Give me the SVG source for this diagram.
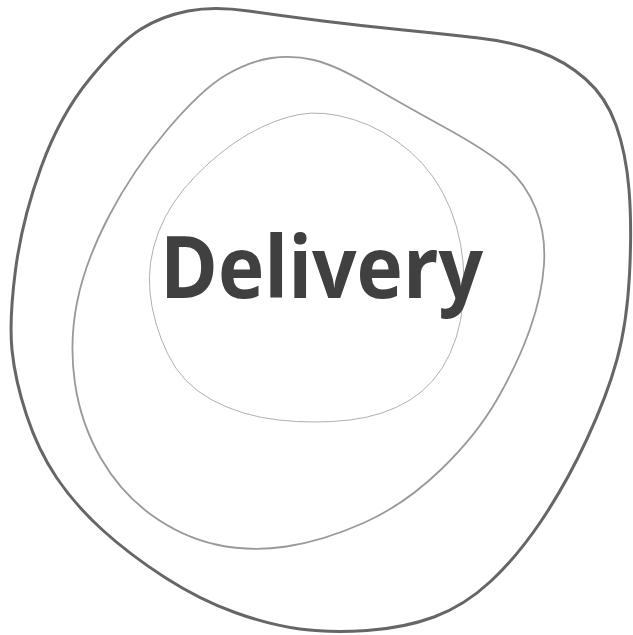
<svg xmlns="http://www.w3.org/2000/svg" width="633" height="635" viewBox="0 0 633 635">
<style>
.ring{fill:none;stroke-linejoin:round}
.label{font-family:"Open Sans","Liberation Sans",sans-serif;font-weight:700;fill:#404040}
</style>
<rect width="633" height="635" fill="#ffffff"/>
<g id="outer">
<path class="ring" stroke="#666666" stroke-width="3" d="M 248.5 11 Q 283 16 323 21 Q 363 26 403.5 30 Q 444 34 478.5 38 Q 513 42 539 51.5 Q 565 61 585.5 79 Q 606 97 616 125 Q 626 153 629 189.5 Q 632 226 629.5 274.5 Q 627 323 617 359.5 Q 607 396 586.5 440 Q 566 484 541.5 520.5 Q 517 557 490.5 581.5 Q 464 606 434 617 Q 404 628 367 630.5 Q 330 633 300 629 Q 270 625 235 612.5 Q 200 600 165 577.5 Q 130 555 102.5 530 Q 75 505 56.5 477.5 Q 38 450 26.5 415 Q 15 380 12 350 Q 9 320 15.5 270 Q 22 220 41 167.5 Q 60 115 90 78.5 Q 120 42 141 29 Q 162 16 188 11 Q 214 6 248.5 11 Z"/>
</g>
<g id="middle">
<path class="ring" stroke="#999999" stroke-width="1.8" d="M 314 60 Q 335 65 369.5 85 Q 404 105 444 127 Q 484 149 504.5 165.5 Q 525 182 535.5 208 Q 546 234 544 264.5 Q 542 295 530 329 Q 518 363 497 399.5 Q 476 436 440 470.5 Q 404 505 363.5 523 Q 323 541 286.5 546.5 Q 250 552 216 544.5 Q 182 537 151.5 515 Q 121 493 101 458.5 Q 81 424 75 383.5 Q 69 343 77 302.5 Q 85 262 109 216 Q 133 170 167.5 129.5 Q 202 89 226 75 Q 250 61 271.5 58 Q 293 55 314 60 Z"/>
</g>
<g id="inner">
<path class="ring" stroke="#b0b0b0" stroke-width="1" d="M 353.5 119.5 Q 384 129 410 151.5 Q 436 174 450 208 Q 464 242 464 282.5 Q 464 323 450 353.5 Q 436 384 410 400 Q 384 416 349.5 420 Q 315 424 278.5 420 Q 242 416 212 400 Q 182 384 167.5 353.5 Q 153 323 150 292.5 Q 147 262 158.5 232 Q 170 202 196 175.5 Q 222 149 248.5 134 Q 275 119 299 114.5 Q 323 110 353.5 119.5 Z"/>
<text class="label" x="160" y="298" font-size="86" textLength="323" lengthAdjust="spacingAndGlyphs">Delivery</text>
</g>
<g id="connectors"/>
</svg>
